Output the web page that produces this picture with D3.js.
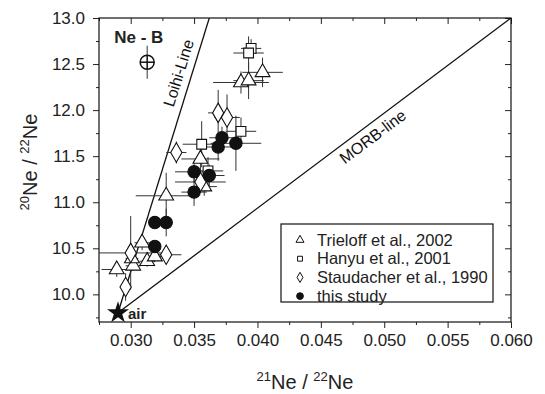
<!DOCTYPE html>
<html>
<head>
<meta charset="utf-8">
<script src="https://cdn.jsdelivr.net/npm/d3@7"></script>
<style>
body{margin:0;background:#fff;}
text{font-family:"Liberation Sans",Arial,sans-serif;}
</style>
</head>
<body>
<script>
// Trieloff et al., 2002 (triangles)
var triX = [0.0404,0.0387,0.0393,0.0355,0.0328,0.0358,0.0309,0.0313,0.0319,0.0302,0.0301,0.0289];
var triY = [12.41,12.30,12.32,11.47,11.07,11.17,10.56,10.36,10.41,10.31,10.39,10.27];
var triXe = [0.0016,0.0022,0.0012,0.0015,0.0024,0.0010,0.0006,0.0006,0.0008,0.0006,0.0005,0.0012];
var triYe = [0.16,0.12,0.20,0.20,0.25,0.10,0.08,0.06,0.06,0.05,0.06,0.08];
// Hanyu et al., 2001 (squares)
var sqX = [0.0395,0.0393,0.0387,0.0356,0.0361];
var sqY = [12.67,12.62,11.77,11.63,11.34];
var sqXe = [0.0008,0.0012,0.0012,0.0015,0.0012];
var sqYe = [0.10,0.18,0.15,0.25,0.15];
// Staudacher et al., 1990 (diamonds)
var diaX = [0.0369,0.0376,0.0336,0.0355,0.0300,0.0328,0.0296];
var diaY = [11.97,11.92,11.54,11.22,10.45,10.43,10.08];
var diaXe = [0.0008,0.0010,0.0008,0.0020,0.0025,0.0012,0.0003];
var diaYe = [0.25,0.25,0.12,0.12,0.40,0.10,0.15];
// this study (filled circles)
var cirX = [0.0372,0.0369,0.0383,0.0350,0.0362,0.0350,0.0319,0.0328,0.0319];
var cirY = [11.70,11.60,11.64,11.33,11.29,11.11,10.78,10.78,10.52];
var cirXe = [0.0010,0.0012,0.0020,0.0015,0.0012,0.0010,0.0005,0.0005,0.0004];
var cirYe = [0.12,0.15,0.30,0.12,0.12,0.15,0.06,0.15,0.05];
// end-members
var neB = [0.0313,12.52], neBYe = 0.18;
var air = [0.0290,9.80];
var loihiEnd = [0.0362,13.0];
var morbEnd = [0.060,13.0];
var xTicks = [0.030,0.035,0.040,0.045,0.050,0.055,0.060];
var yTicks = [10.0,10.5,11.0,11.5,12.0,12.5,13.0];
var legendLabels = ["Trieloff et al., 2002","Hanyu et al., 2001","Staudacher et al., 1990","this study"];

var W = 545, H = 394;
var m = {left:99, right:34, top:18, bottom:72};
var pw = W - m.left - m.right, ph = H - m.top - m.bottom;

var x = d3.scaleLinear().domain([0.0275,0.060]).range([0,pw]);
var y = d3.scaleLinear().domain([9.7,13.0]).range([ph,0]);

var svg = d3.select("body").append("svg").attr("width",W).attr("height",H);
var g = svg.append("g").attr("transform","translate("+m.left+","+m.top+")");

g.append("clipPath").attr("id","clip").append("rect").attr("width",pw).attr("height",ph);

var xMinor = d3.range(0.0275,0.0601,0.0025).filter(function(v){return Math.abs(v/0.005-Math.round(v/0.005))>0.1;});
var yMinor = d3.range(9.75,13.0,0.5);

// axes
var fmtX = d3.format(".3f"), fmtY = d3.format(".1f");
g.append("g").attr("transform","translate(0,"+ph+")")
  .call(d3.axisBottom(x).tickValues(xTicks).tickFormat(fmtX).tickSize(6).tickSizeOuter(0).tickPadding(6));
g.append("g").attr("transform","translate(0,"+ph+")")
  .call(d3.axisBottom(x).tickValues(xMinor).tickFormat("").tickSize(3).tickSizeOuter(0));
g.append("g")
  .call(d3.axisLeft(y).tickValues(yTicks).tickFormat(fmtY).tickSize(6).tickSizeOuter(0).tickPadding(8));
g.append("g").call(d3.axisLeft(y).tickValues(yMinor).tickFormat("").tickSize(3).tickSizeOuter(0));
g.append("g").call(d3.axisTop(x).tickValues(xTicks).tickFormat("").tickSize(-6).tickSizeOuter(0));
g.append("g").call(d3.axisTop(x).tickValues(xMinor).tickFormat("").tickSize(-3).tickSizeOuter(0));
g.append("g").attr("transform","translate("+pw+",0)")
  .call(d3.axisRight(y).tickValues(yTicks).tickFormat("").tickSize(-6).tickSizeOuter(0));
g.append("g").attr("transform","translate("+pw+",0)")
  .call(d3.axisRight(y).tickValues(yMinor).tickFormat("").tickSize(-3).tickSizeOuter(0));
g.selectAll(".tick text").attr("font-size",17).attr("fill","#222").style("font-family","Liberation Sans, Arial, sans-serif");
g.selectAll(".domain").remove();
g.selectAll(".tick line").attr("stroke","#222");
g.append("rect").attr("width",pw).attr("height",ph).attr("fill","none").attr("stroke","#111").attr("stroke-width",1.2);

// reference lines
var lines = g.append("g").attr("clip-path","url(#clip)");
lines.append("line").attr("x1",x(air[0])).attr("y1",y(air[1])).attr("x2",x(loihiEnd[0])).attr("y2",y(loihiEnd[1]))
  .attr("stroke","#111").attr("stroke-width",1.3);
lines.append("line").attr("x1",x(air[0])).attr("y1",y(air[1])).attr("x2",x(morbEnd[0])).attr("y2",y(morbEnd[1]))
  .attr("stroke","#111").attr("stroke-width",1.3);

function lineLabel(txt,p0,p1,t,off){
  var x0=x(p0[0]),y0=y(p0[1]),x1=x(p1[0]),y1=y(p1[1]);
  var ang=Math.atan2(y1-y0,x1-x0);
  var cx=x0+(x1-x0)*t, cy=y0+(y1-y0)*t;
  // perpendicular offset (positive = left/up side of direction)
  cx += Math.sin(ang)*off; cy -= Math.cos(ang)*off;
  g.append("text").attr("transform","translate("+cx+","+cy+") rotate("+(ang*180/Math.PI)+")")
    .attr("text-anchor","middle").attr("dominant-baseline","central")
    .attr("font-size",16).attr("fill","#111").text(txt);
}
lineLabel("Loihi-Line",air,loihiEnd,0.8,13);
lineLabel("MORB-line",air,morbEnd,0.63,-12);

// series
var series = [
  {xs:triX,ys:triY,xe:triXe,ye:triYe,sym:d3.symbolTriangle,size:95,fill:"#fff"},
  {xs:sqX,ys:sqY,xe:sqXe,ye:sqYe,sym:d3.symbolSquare,size:95,fill:"#fff"},
  {xs:diaX,ys:diaY,xe:diaXe,ye:diaYe,sym:d3.symbolDiamond,size:110,fill:"#fff"},
  {xs:cirX,ys:cirY,xe:cirXe,ye:cirYe,sym:d3.symbolCircle,size:120,fill:"#111"}
];
var eb = g.append("g").attr("stroke","#333").attr("stroke-width",1);
series.forEach(function(s){
  s.xs.forEach(function(v,i){
    eb.append("line").attr("x1",x(v-s.xe[i])).attr("x2",x(v+s.xe[i])).attr("y1",y(s.ys[i])).attr("y2",y(s.ys[i]));
    eb.append("line").attr("x1",x(v)).attr("x2",x(v)).attr("y1",y(s.ys[i]-s.ye[i])).attr("y2",y(s.ys[i]+s.ye[i]));
  });
});
series.forEach(function(s){
  g.append("g").selectAll("path").data(s.xs).enter().append("path")
    .attr("d",d3.symbol().type(s.sym).size(s.size))
    .attr("transform",function(d,i){return "translate("+x(d)+","+y(s.ys[i])+")";})
    .attr("fill",s.fill).attr("stroke","#111").attr("stroke-width",1.1);
});

// Ne-B
g.append("line").attr("x1",x(neB[0])).attr("x2",x(neB[0])).attr("y1",y(neB[1]-neBYe)).attr("y2",y(neB[1]+neBYe)).attr("stroke","#333");
g.append("circle").attr("cx",x(neB[0])).attr("cy",y(neB[1])).attr("r",7).attr("fill","#fff").attr("stroke","#111").attr("stroke-width",1.5);
g.append("line").attr("x1",x(neB[0])-7).attr("x2",x(neB[0])+7).attr("y1",y(neB[1])).attr("y2",y(neB[1])).attr("stroke","#111").attr("stroke-width",1.5);
g.append("line").attr("x1",x(neB[0])).attr("x2",x(neB[0])).attr("y1",y(neB[1])-7).attr("y2",y(neB[1])+7).attr("stroke","#111").attr("stroke-width",1.5);
g.append("text").attr("x",x(neB[0])-33).attr("y",y(neB[1])-19).attr("font-size",17).attr("font-weight","bold").attr("fill","#222").text("Ne - B");

// air
g.append("path").attr("d",d3.symbol().type(d3.symbolStar).size(150))
  .attr("transform","translate("+x(air[0])+","+y(air[1])+")").attr("fill","#111");
g.append("text").attr("x",x(air[0])+10).attr("y",y(air[1])+6).attr("font-size",15).attr("font-weight","bold").attr("fill","#222").text("air");

// legend
var lg = svg.append("g").attr("transform","translate(281,224)");
lg.append("rect").attr("width",212).attr("height",78).attr("fill","#fff").attr("stroke","#111").attr("stroke-width",1.2);
var lsyms = [d3.symbolTriangle,d3.symbolSquare,d3.symbolDiamond,d3.symbolCircle];
var lsz = [28,24,30,36];
legendLabels.forEach(function(lab,i){
  var cy = 16 + i*18.7;
  lg.append("path").attr("d",d3.symbol().type(lsyms[i]).size(lsz[i]))
    .attr("transform","translate(19,"+cy+")").attr("fill",i==3?"#111":"#fff").attr("stroke","#111");
  lg.append("text").attr("x",36).attr("y",cy).attr("dy","0.35em").attr("font-size",16.5).attr("fill","#222").text(lab);
});

// axis titles
var xt = svg.append("text").attr("x",m.left+pw/2).attr("y",389).attr("text-anchor","middle").attr("font-size",20).attr("fill","#222");
xt.append("tspan").attr("font-size",13).attr("dy",-8).text("21");
xt.append("tspan").attr("dy",8).text("Ne / ");
xt.append("tspan").attr("font-size",13).attr("dy",-8).text("22");
xt.append("tspan").attr("dy",8).text("Ne");
var yt = svg.append("text").attr("transform","translate(37,"+(m.top+ph/2-8)+") rotate(-90)").attr("text-anchor","middle").attr("font-size",20).attr("fill","#222");
yt.append("tspan").attr("font-size",13).attr("dy",-8).text("20");
yt.append("tspan").attr("dy",8).text("Ne / ");
yt.append("tspan").attr("font-size",13).attr("dy",-8).text("22");
yt.append("tspan").attr("dy",8).text("Ne");
</script>
</body>
</html>
